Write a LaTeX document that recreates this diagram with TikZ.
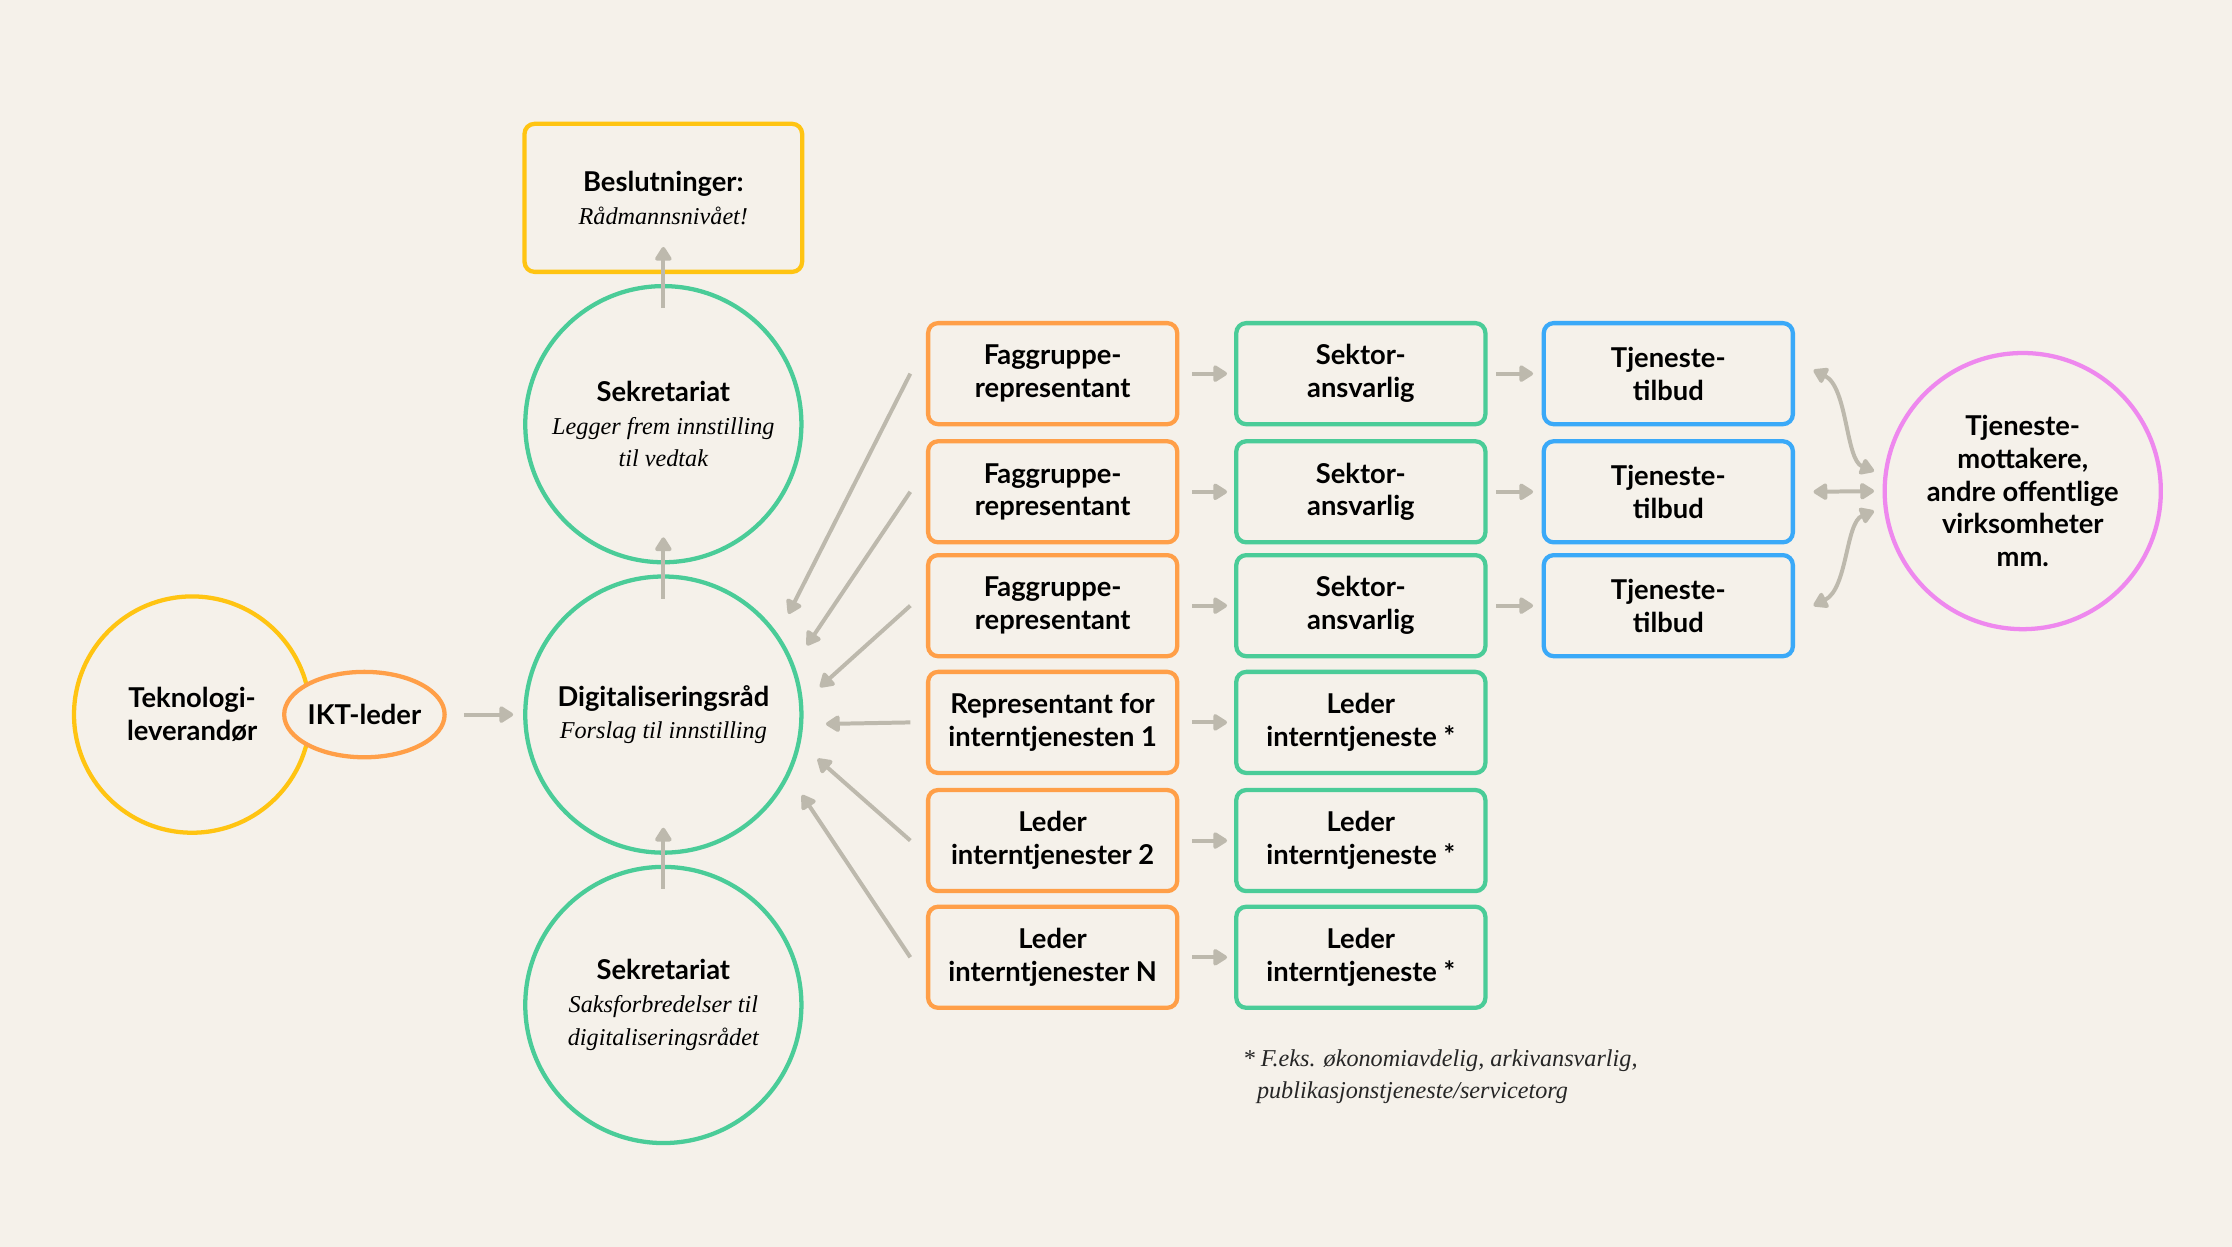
\documentclass[tikz,border=0pt]{standalone}
\usepackage{fontspec}
\setmainfont{Liberation Serif}
\setsansfont{Lato}
\usetikzlibrary{arrows.meta,shapes.geometric}
\definecolor{bg}{HTML}{F5F1EA}
\definecolor{gul}{HTML}{FFC412}
\definecolor{oransje}{HTML}{FF9F48}
\definecolor{gronn}{HTML}{4ACC98}
\definecolor{blaa}{HTML}{3AA9F8}
\definecolor{rosa}{HTML}{EE88EE}
\definecolor{pilgraa}{HTML}{BDB9AD}
\newcommand{\kursiv}[1]{{\normalfont\itshape\fontsize{8.5}{11.5}\selectfont #1}}

\begin{document}
\begin{tikzpicture}[x=0.5pt,y=-0.5pt,
	txt/.style={align=center,text=black,font=\sffamily\bfseries\fontsize{9.6}{11.5}\selectfont},
	boks/.style={txt,draw,fill=bg,rounded corners=3.5pt,line width=1.5pt,minimum width=87.5pt,minimum height=35.5pt,inner sep=0pt},
	sirkel/.style={txt,draw,fill=bg,circle,line width=1.5pt,minimum size=97pt,inner sep=0pt},
	pil/.style={draw=pilgraa,line width=1.4pt,-{Triangle[length=5.5pt,width=6.5pt,round]}},
	dpil/.style={pil,{Triangle[length=5.5pt,width=6.5pt,round]}-{Triangle[length=5.5pt,width=6.5pt,round]}}]
		\fill[bg](0,0)rectangle(1568,876);
		% venstre side
		\node[sirkel,draw=gul,minimum size=83pt](tek)at(135,502){Teknologi-\\leverandør};
		\node[txt,draw=oransje,fill=bg,ellipse,line width=1.5pt,minimum width=56pt,minimum height=30pt,inner sep=0pt](ikt)at(256,502){IKT-leder};
		\node[sirkel,draw=gronn](dig)at(466,502){Digitaliseringsråd\\\kursiv{Forslag til innstilling}};
		\node[sirkel,draw=gronn](sek1)at(466,298){Sekretariat\\\kursiv{Legger frem innstilling}\\\kursiv{til vedtak}};
		\node[sirkel,draw=gronn](sek2)at(466,706){Sekretariat\\\kursiv{Saksforbredelser til}\\\kursiv{digitaliseringsrådet}};
		\node[boks,draw=gul,minimum width=97.5pt,minimum height=52pt](besl)at(466,139){Beslutninger:\\\kursiv{Rådmannsnivået!}};
		\draw[pil]([xshift=6pt]ikt.east)--([xshift=-3.5pt]dig.west);
		\draw[pil]([yshift=-8.5pt]sek2.north)--([yshift=9.5pt]dig.south);
		\draw[pil]([yshift=-8.5pt]dig.north)--([yshift=9.5pt]sek1.south);
		\draw[pil]([yshift=-8.5pt]sek1.north)--([yshift=9.5pt]besl.south);
		% kolonnene
		\foreach \i/\y in {1/262.5,2/345.5,3/425.5}{
			\node[boks,draw=oransje](f\i)at(739.5,\y){Faggruppe-\\representant};
			\node[boks,draw=gronn](s\i)at(956,\y){Sektor-\\ansvarlig};
			\node[boks,draw=blaa](t\i)at(1172,\y){Tjeneste-\\tilbud};
			\draw[pil]([xshift=4.5pt]f\i.east)--([xshift=-2.5pt]s\i.west);
			\draw[pil]([xshift=3pt]s\i.east)--([xshift=-3pt]t\i.west);
		}
		\node[boks,draw=oransje](f4)at(739.5,507.5){Representant for\\interntjenesten 1};
		\node[boks,draw=oransje](f5)at(739.5,590.5){Leder\\interntjenester 2};
		\node[boks,draw=oransje](f6)at(739.5,672.5){Leder\\interntjenester N};
		\foreach \i/\y in {4/507.5,5/590.5,6/672.5}{
			\node[boks,draw=gronn](l\i)at(956,\y){Leder\\interntjeneste *};
			\draw[pil]([xshift=4.5pt]f\i.east)--([xshift=-2.5pt]l\i.west);
		}
		\foreach \i/\v in {1/35,2/21,3/5,4/-4,5/-12,6/-26}
			\draw[pil,shorten >=8pt]([xshift=-5.5pt]f\i.west)--(dig.\v);
		% mottakere
		\node[sirkel,draw=rosa](motta)at(1421,345){Tjeneste-\\mottakere,\\andre offentlige\\virksomheter\\mm.};
		\draw[dpil]([xshift=6.5pt]t2.east)--([xshift=-3pt]motta.west);
		\draw[dpil]([shift={(6.5pt,1.25pt)}]t1.east)..controls +(24,12) and +(-20,-8)..([shift={(-3pt,7pt)}]motta.west);
		\draw[dpil]([xshift=6.5pt]t3.east)..controls +(24,-12) and +(-20,8)..([shift={(-3pt,-7pt)}]motta.west);
		\node[anchor=base west,align=left,text=black!85,font=\itshape\fontsize{8.5}{11.5}\selectfont](fotnote)at(866,772){* F.eks. økonomiavdelig, arkivansvarlig,\\\hspace*{5pt}publikasjonstjeneste/servicetorg};
		\end{tikzpicture}
\end{document}
